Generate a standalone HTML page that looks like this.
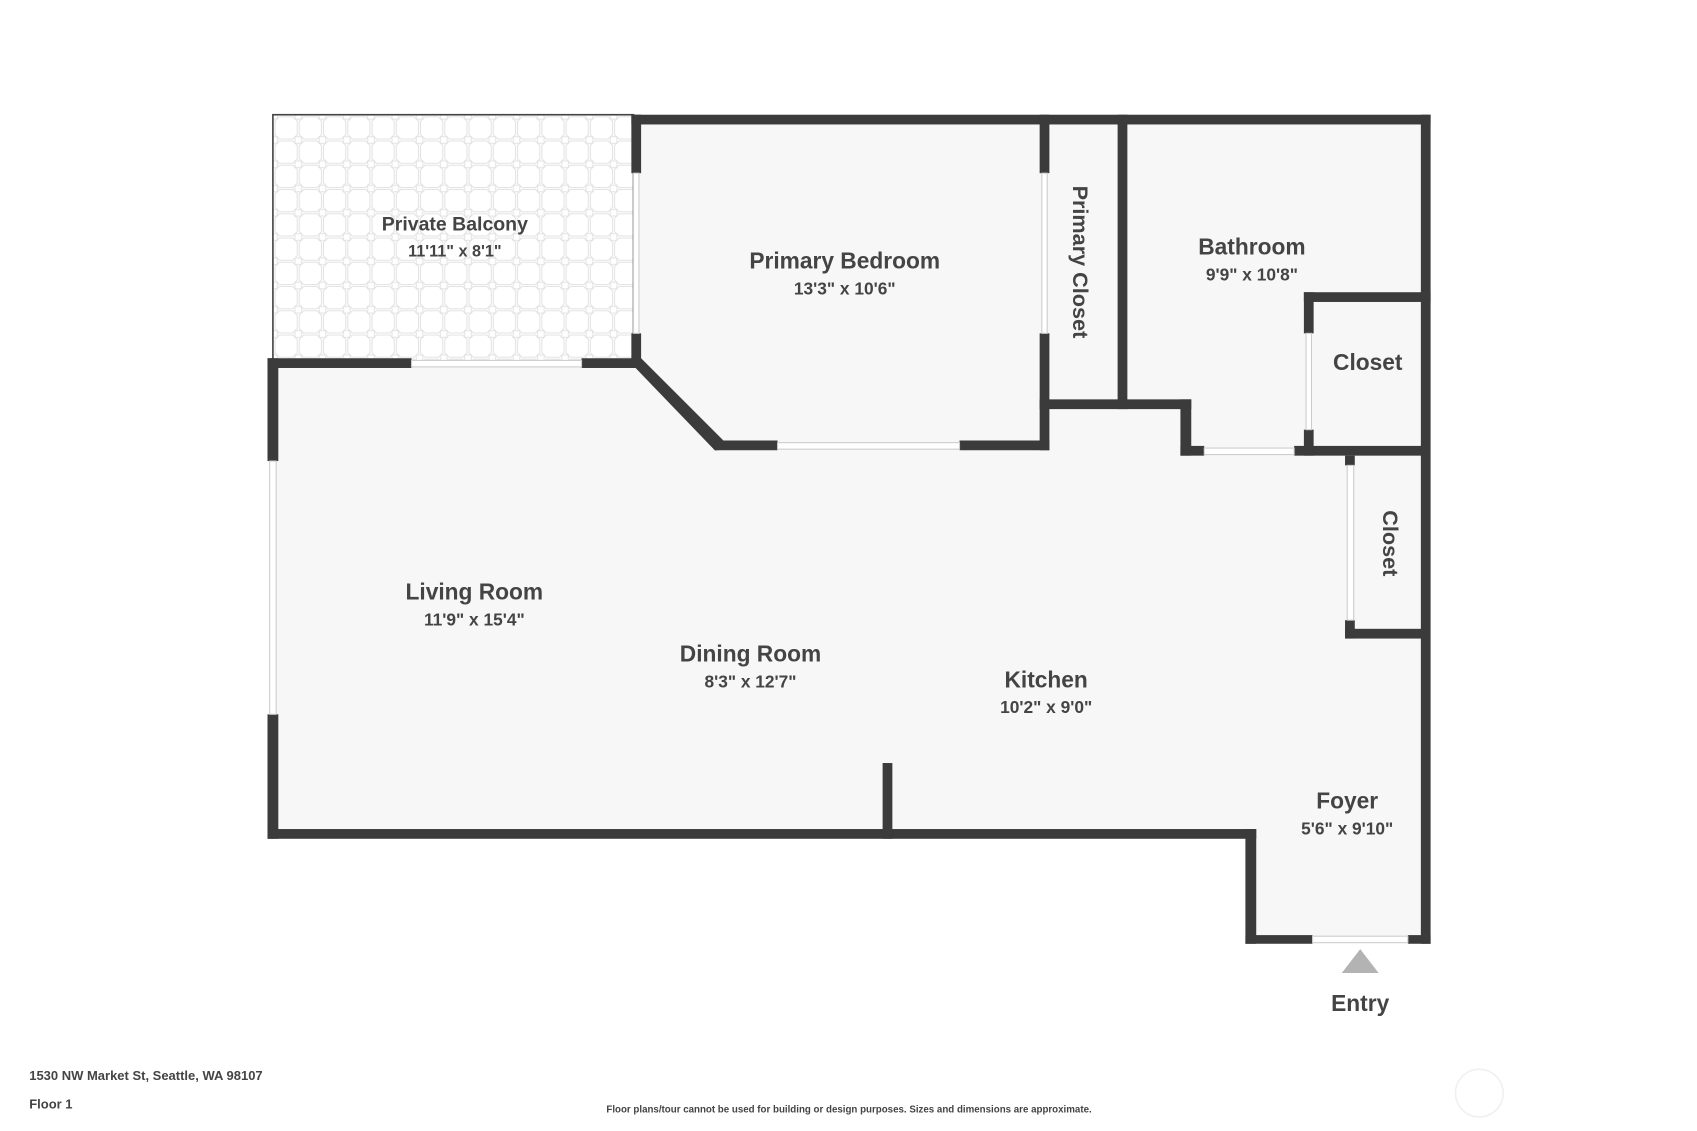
<!DOCTYPE html>
<html><head><meta charset="utf-8"><style>
html,body{margin:0;padding:0;background:#fff;}
svg{display:block;}
text{font-family:"Liberation Sans",sans-serif;font-weight:bold;fill:#444;}
</style></head><body>
<svg width="1697" height="1131" viewBox="0 0 1567 1045" preserveAspectRatio="none" xmlns="http://www.w3.org/2000/svg">
<defs>
<pattern id="tile" width="22.4" height="22.4" patternUnits="userSpaceOnUse" x="253" y="107">
<rect width="22.4" height="22.4" fill="#fcfcfc"/>
<polygon points="5,1 17.4,1 21.4,5 21.4,17.4 17.4,21.4 5,21.4 1,17.4 1,5" fill="#fff" stroke="#e0e0e0" stroke-width="0.8"/>
<rect x="-3" y="-3" width="6" height="6" fill="#fff" stroke="#e0e0e0" stroke-width="0.8"/>
<rect x="19.4" y="-3" width="6" height="6" fill="#fff" stroke="#e0e0e0" stroke-width="0.8"/>
<rect x="-3" y="19.4" width="6" height="6" fill="#fff" stroke="#e0e0e0" stroke-width="0.8"/>
<rect x="19.4" y="19.4" width="6" height="6" fill="#fff" stroke="#e0e0e0" stroke-width="0.8"/>
</pattern>
</defs>
<rect x="252" y="106" width="333" height="228" fill="url(#tile)" stroke="#444" stroke-width="1.5"/>
<polygon fill="#f7f7f7" points="252,336 587,336 663,412 965,412 965,111 1316,111 1316,868 1155,868 1155,770 252,770"/>
<rect x="587" y="111" width="380" height="302" fill="#f7f7f7"/>
<g fill="#3b3b3b">
<rect x="583" y="106" width="738" height="9"/>
<rect x="583" y="106" width="9" height="54"/>
<rect x="583" y="308" width="9" height="32"/>
<rect x="247" y="331" width="133" height="9"/>
<rect x="537" y="331" width="53" height="9"/>
<rect x="247" y="331" width="10" height="95"/>
<rect x="247" y="660" width="10" height="115"/>
<polygon points="583,336 592,331 668,407 663,416 660,416"/>
<rect x="660" y="407" width="58" height="9"/>
<rect x="886" y="407" width="83" height="9"/>
<rect x="960" y="106" width="9" height="54"/>
<rect x="960" y="308" width="9" height="108"/>
<rect x="1032" y="106" width="9" height="272"/>
<rect x="960" y="369" width="140" height="9"/>
<rect x="1090" y="369" width="10" height="52"/>
<rect x="1090" y="412" width="22" height="9"/>
<rect x="1195" y="412" width="121" height="9"/>
<rect x="1204" y="270" width="9" height="38"/>
<rect x="1204" y="397" width="9" height="24"/>
<rect x="1204" y="270" width="117" height="9"/>
<rect x="1312" y="106" width="9" height="766"/>
<rect x="1242" y="421" width="9" height="9"/>
<rect x="1242" y="573" width="9" height="17"/>
<rect x="1242" y="581" width="74" height="9"/>
<rect x="247" y="766" width="913" height="9"/>
<rect x="815" y="705" width="9" height="70"/>
<rect x="1150" y="766" width="10" height="106"/>
<rect x="1150" y="864" width="62" height="8"/>
<rect x="1300" y="864" width="21" height="8"/>
</g>
<g fill="#fff" stroke="#ccc" stroke-width="1">
<rect x="585" y="160" width="5" height="148"/>
<rect x="380" y="333" width="157" height="6"/>
<rect x="249" y="426" width="6" height="234"/>
<rect x="718" y="409" width="168" height="6"/>
<rect x="962" y="160" width="5" height="148"/>
<rect x="1112" y="414" width="83" height="6"/>
<rect x="1206" y="308" width="5" height="89"/>
<rect x="1244" y="430" width="6" height="143"/>
<rect x="1212" y="865" width="88" height="6"/>
</g>
<polygon points="1256,877 1273,899 1239,899" fill="#b3b3b3"/>
<g text-anchor="middle">
<text x="420" y="213" font-size="18">Private Balcony</text>
<text x="420" y="237" font-size="15">11'11" x 8'1"</text>
<text x="780" y="248" font-size="21">Primary Bedroom</text>
<text x="780" y="272" font-size="16">13'3" x 10'6"</text>
<text x="1156" y="235" font-size="21">Bathroom</text>
<text x="1156" y="259" font-size="16">9'9" x 10'8"</text>
<text x="1263" y="342" font-size="21">Closet</text>
<text x="438" y="554" font-size="21">Living Room</text>
<text x="438" y="578" font-size="16">11'9" x 15'4"</text>
<text x="693" y="611" font-size="21">Dining Room</text>
<text x="693" y="635" font-size="16">8'3" x 12'7"</text>
<text x="966" y="635" font-size="21">Kitchen</text>
<text x="966" y="659" font-size="16">10'2" x 9'0"</text>
<text x="1244" y="747" font-size="21">Foyer</text>
<text x="1244" y="771" font-size="16">5'6" x 9'10"</text>
<text x="1256" y="934" font-size="21">Entry</text>
<text transform="translate(991,242) rotate(90)" font-size="20">Primary Closet</text>
<text transform="translate(1277,502) rotate(90)" font-size="20">Closet</text>
</g>
<text x="27" y="998" font-size="12">1530 NW Market St, Seattle, WA 98107</text>
<text x="27" y="1024" font-size="12">Floor 1</text>
<text x="784" y="1028" font-size="9" text-anchor="middle">Floor plans/tour cannot be used for building or design purposes. Sizes and dimensions are approximate.</text>
<circle cx="1366" cy="1010" r="22" fill="none" stroke="#f0f0f0" stroke-width="1.5"/>
</svg>
</body></html>
